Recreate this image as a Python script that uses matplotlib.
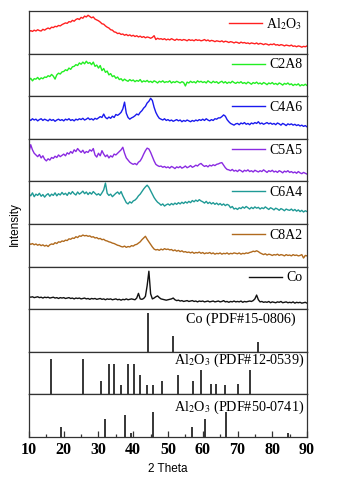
import numpy as np
import matplotlib
matplotlib.use("Agg")
import matplotlib.pyplot as plt
from matplotlib.ticker import MultipleLocator

plt.rcParams["font.family"] = ["Liberation Serif", "DejaVu Serif"]
plt.rcParams["mathtext.fontset"] = "stix"

# 2 theta grid of the measured patterns (0.5 deg steps, 10..90)
two_theta = np.arange(10, 90.01, 0.5)

# intensities, as fraction of each panel height
al2o3 = [
    0.51, 0.54, 0.52, 0.55, 0.53, 0.56, 0.54, 0.53, 0.57, 0.55,
    0.58, 0.60, 0.58, 0.62, 0.61, 0.64, 0.63, 0.66, 0.65, 0.68,
    0.70, 0.72, 0.71, 0.75, 0.74, 0.78, 0.76, 0.80, 0.82, 0.80,
    0.85, 0.83, 0.88, 0.86, 0.90, 0.87, 0.84, 0.86, 0.81, 0.79,
    0.77, 0.74, 0.70, 0.69, 0.65, 0.62, 0.60, 0.56, 0.55, 0.51,
    0.50, 0.47, 0.48, 0.45, 0.46, 0.43, 0.45, 0.42, 0.44, 0.41,
    0.43, 0.40, 0.42, 0.39, 0.41, 0.38, 0.40, 0.37, 0.39, 0.38,
    0.36, 0.38, 0.42, 0.33, 0.36, 0.34, 0.35, 0.33, 0.35, 0.32,
    0.34, 0.32, 0.35, 0.33, 0.31, 0.34, 0.32, 0.33, 0.31, 0.33,
    0.32, 0.30, 0.33, 0.31, 0.32, 0.30, 0.33, 0.31, 0.32, 0.30,
    0.31, 0.33, 0.30, 0.32, 0.29, 0.31, 0.30, 0.28, 0.30, 0.29,
    0.28, 0.30, 0.27, 0.29, 0.28, 0.26, 0.28, 0.27, 0.25, 0.27,
    0.26, 0.24, 0.27, 0.25, 0.26, 0.24, 0.25, 0.23, 0.25, 0.24,
    0.23, 0.25, 0.22, 0.24, 0.23, 0.21, 0.23, 0.22, 0.20, 0.22,
    0.21, 0.23, 0.20, 0.21, 0.19, 0.21, 0.20, 0.18, 0.20, 0.19,
    0.18, 0.20, 0.17, 0.18, 0.16, 0.18, 0.17, 0.15, 0.17, 0.16,
    0.18,
]
c2a8 = [
    0.38, 0.42, 0.36, 0.41, 0.40, 0.44, 0.39, 0.43, 0.41, 0.45,
    0.44, 0.48, 0.46, 0.51, 0.47, 0.40, 0.50, 0.54, 0.52, 0.57,
    0.58, 0.62, 0.60, 0.66, 0.63, 0.69, 0.70, 0.74, 0.72, 0.78,
    0.75, 0.80, 0.76, 0.82, 0.77, 0.79, 0.74, 0.80, 0.70, 0.73,
    0.66, 0.72, 0.60, 0.65, 0.56, 0.59, 0.50, 0.53, 0.46, 0.48,
    0.42, 0.45, 0.39, 0.41, 0.36, 0.40, 0.37, 0.35, 0.39, 0.36,
    0.38, 0.34, 0.37, 0.35, 0.39, 0.33, 0.36, 0.34, 0.37, 0.33,
    0.35, 0.32, 0.36, 0.34, 0.31, 0.35, 0.33, 0.36, 0.32, 0.34,
    0.33, 0.36, 0.31, 0.34, 0.32, 0.35, 0.33, 0.31, 0.34, 0.32,
    0.24, 0.33, 0.31, 0.35, 0.32, 0.34, 0.31, 0.36, 0.33, 0.35,
    0.32, 0.34, 0.31, 0.36, 0.33, 0.31, 0.35, 0.32, 0.34, 0.30,
    0.33, 0.35, 0.31, 0.34, 0.30, 0.33, 0.31, 0.35, 0.32, 0.30,
    0.33, 0.31, 0.34, 0.30, 0.32, 0.29, 0.33, 0.31, 0.28, 0.32,
    0.30, 0.33, 0.29, 0.31, 0.28, 0.32, 0.30, 0.27, 0.31, 0.29,
    0.32, 0.28, 0.30, 0.27, 0.31, 0.29, 0.26, 0.30, 0.28, 0.31,
    0.27, 0.29, 0.25, 0.28, 0.26, 0.29, 0.24, 0.27, 0.25, 0.28,
    0.25,
]
c4a6 = [
    0.46, 0.43, 0.47, 0.44, 0.46, 0.42, 0.45, 0.47, 0.43, 0.46,
    0.44, 0.42, 0.46, 0.43, 0.45, 0.41, 0.44, 0.46, 0.43, 0.45,
    0.42, 0.46, 0.44, 0.47, 0.43, 0.45, 0.42, 0.46, 0.44, 0.47,
    0.45, 0.48, 0.44, 0.46, 0.49, 0.45, 0.47, 0.44, 0.48, 0.46,
    0.49, 0.52, 0.50, 0.58, 0.50, 0.47, 0.51, 0.48, 0.53, 0.50,
    0.57, 0.55, 0.58, 0.62, 0.70, 0.86, 0.60, 0.50, 0.46, 0.49,
    0.51, 0.54, 0.58, 0.56, 0.62, 0.66, 0.72, 0.76, 0.84, 0.88,
    0.95, 0.90, 0.74, 0.62, 0.54, 0.48, 0.46, 0.44, 0.47, 0.43,
    0.45, 0.42, 0.44, 0.41, 0.43, 0.45, 0.42, 0.44, 0.40, 0.43,
    0.41, 0.44, 0.42, 0.40, 0.43, 0.41, 0.44, 0.42, 0.45, 0.43,
    0.46, 0.43, 0.47, 0.44, 0.42, 0.45, 0.43, 0.47, 0.46, 0.49,
    0.49, 0.52, 0.56, 0.53, 0.45, 0.40, 0.36, 0.34, 0.32, 0.35,
    0.36, 0.33, 0.37, 0.35, 0.38, 0.34, 0.36, 0.33, 0.37, 0.35,
    0.38, 0.36, 0.40, 0.35, 0.37, 0.34, 0.36, 0.38, 0.35, 0.37,
    0.34, 0.36, 0.33, 0.37, 0.35, 0.32, 0.36, 0.34, 0.31, 0.35,
    0.33, 0.35, 0.32, 0.34, 0.31, 0.33, 0.30, 0.32, 0.29, 0.31,
    0.28,
]
c5a5 = [
    0.70, 0.86, 0.74, 0.66, 0.62, 0.58, 0.63, 0.55, 0.60, 0.52,
    0.48, 0.53, 0.50, 0.56, 0.54, 0.59, 0.56, 0.62, 0.58, 0.61,
    0.64, 0.60, 0.67, 0.64, 0.70, 0.66, 0.74, 0.70, 0.77, 0.72,
    0.68, 0.73, 0.66, 0.70, 0.68, 0.74, 0.71, 0.77, 0.62, 0.57,
    0.66, 0.60, 0.72, 0.64, 0.58, 0.62, 0.55, 0.60, 0.57, 0.64,
    0.62, 0.66, 0.70, 0.74, 0.80, 0.66, 0.55, 0.50, 0.45, 0.42,
    0.40, 0.42, 0.39, 0.45, 0.48, 0.55, 0.64, 0.72, 0.78, 0.76,
    0.68, 0.58, 0.48, 0.40, 0.37, 0.35, 0.36, 0.33, 0.35, 0.32,
    0.34, 0.31, 0.35, 0.33, 0.30, 0.34, 0.32, 0.35, 0.31, 0.33,
    0.36, 0.32, 0.34, 0.37, 0.33, 0.35, 0.38, 0.36, 0.40, 0.42,
    0.38, 0.35, 0.37, 0.34, 0.38, 0.36, 0.39, 0.37, 0.40, 0.41,
    0.43, 0.44, 0.38, 0.32, 0.28, 0.27, 0.25, 0.28, 0.24, 0.26,
    0.23, 0.27, 0.25, 0.22, 0.26, 0.24, 0.27, 0.23, 0.25, 0.22,
    0.26, 0.24, 0.22, 0.25, 0.23, 0.27, 0.24, 0.21, 0.25, 0.23,
    0.26, 0.22, 0.24, 0.21, 0.25, 0.23, 0.20, 0.24, 0.22, 0.25,
    0.21, 0.23, 0.20, 0.22, 0.19, 0.23, 0.20, 0.18, 0.21, 0.19,
    0.17,
]
c6a4 = [
    0.70, 0.66, 0.73, 0.64, 0.70, 0.67, 0.72, 0.65, 0.69, 0.63,
    0.68, 0.71, 0.65, 0.70, 0.67, 0.73, 0.66, 0.71, 0.68, 0.74,
    0.69, 0.72, 0.67, 0.74, 0.70, 0.76, 0.71, 0.68, 0.75, 0.70,
    0.73, 0.77, 0.71, 0.75, 0.69, 0.74, 0.70, 0.76, 0.72, 0.68,
    0.71, 0.67, 0.73, 0.80, 0.96, 0.72, 0.67, 0.70, 0.64, 0.68,
    0.72, 0.75, 0.70, 0.76, 0.66, 0.58, 0.50, 0.47, 0.52, 0.49,
    0.54, 0.56, 0.60, 0.66, 0.70, 0.76, 0.82, 0.87, 0.91, 0.86,
    0.78, 0.70, 0.62, 0.56, 0.51, 0.48, 0.44, 0.47, 0.42, 0.45,
    0.47, 0.44, 0.48, 0.45, 0.49, 0.46, 0.50, 0.47, 0.51, 0.48,
    0.52, 0.49, 0.53, 0.50, 0.55, 0.52, 0.56, 0.53, 0.57, 0.54,
    0.52, 0.49, 0.53, 0.48, 0.51, 0.47, 0.50, 0.46, 0.49, 0.45,
    0.48, 0.44, 0.47, 0.43, 0.46, 0.44, 0.38, 0.41, 0.35, 0.37,
    0.34, 0.38, 0.36, 0.40, 0.37, 0.41, 0.38, 0.35, 0.39, 0.36,
    0.40, 0.37, 0.39, 0.35, 0.38, 0.36, 0.40, 0.37, 0.34, 0.38,
    0.36, 0.33, 0.37, 0.35, 0.32, 0.36, 0.34, 0.31, 0.35, 0.33,
    0.32, 0.35, 0.31, 0.34, 0.30, 0.33, 0.29, 0.32, 0.28, 0.31,
    0.29,
]
c8a2 = [
    0.55, 0.52, 0.54, 0.51, 0.53, 0.50, 0.52, 0.49, 0.51, 0.48,
    0.50, 0.47, 0.51, 0.53, 0.52, 0.56, 0.54, 0.58, 0.57, 0.60,
    0.59, 0.62, 0.61, 0.65, 0.64, 0.67, 0.66, 0.70, 0.68, 0.72,
    0.71, 0.74, 0.72, 0.73, 0.71, 0.72, 0.69, 0.70, 0.67, 0.68,
    0.65, 0.66, 0.63, 0.64, 0.61, 0.60, 0.58, 0.57, 0.55, 0.54,
    0.52, 0.50, 0.49, 0.47, 0.46, 0.48, 0.45, 0.47, 0.46, 0.49,
    0.48, 0.51, 0.52, 0.55, 0.58, 0.63, 0.67, 0.71, 0.64, 0.58,
    0.52, 0.46, 0.41, 0.39, 0.40, 0.38, 0.41, 0.39, 0.42, 0.40,
    0.41, 0.39, 0.40, 0.37, 0.39, 0.36, 0.38, 0.35, 0.37, 0.34,
    0.35, 0.33, 0.34, 0.32, 0.34, 0.31, 0.33, 0.32, 0.34, 0.31,
    0.33, 0.30, 0.32, 0.31, 0.33, 0.30, 0.32, 0.29, 0.31, 0.30,
    0.32, 0.29, 0.31, 0.30, 0.32, 0.29, 0.31, 0.30, 0.32, 0.31,
    0.30, 0.32, 0.29, 0.31, 0.30, 0.32, 0.31, 0.33, 0.34, 0.36,
    0.35, 0.37, 0.35, 0.32, 0.30, 0.28, 0.30, 0.27, 0.29, 0.28,
    0.26, 0.28, 0.27, 0.29, 0.26, 0.28, 0.27, 0.25, 0.28, 0.26,
    0.27, 0.25, 0.28, 0.26, 0.27, 0.25, 0.26, 0.28, 0.20, 0.26,
    0.25,
]
co = [
    0.29, 0.28, 0.29, 0.27, 0.28, 0.29, 0.27, 0.28, 0.26, 0.28,
    0.27, 0.28, 0.26, 0.27, 0.28, 0.26, 0.27, 0.25, 0.27, 0.26,
    0.27, 0.25, 0.26, 0.27, 0.25, 0.26, 0.24, 0.26, 0.25, 0.26,
    0.24, 0.25, 0.26, 0.24, 0.25, 0.23, 0.25, 0.24, 0.25, 0.23,
    0.24, 0.25, 0.23, 0.24, 0.22, 0.24, 0.23, 0.24, 0.22, 0.23,
    0.24, 0.22, 0.23, 0.21, 0.23, 0.22, 0.24, 0.22, 0.23, 0.24,
    0.23, 0.22, 0.26, 0.37, 0.24, 0.23, 0.25, 0.30, 0.55, 0.89,
    0.36, 0.24, 0.26, 0.29, 0.31, 0.27, 0.24, 0.23, 0.22, 0.21,
    0.22, 0.23, 0.24, 0.26, 0.22, 0.20, 0.21, 0.19, 0.20, 0.18,
    0.19, 0.20, 0.18, 0.19, 0.20, 0.18, 0.19, 0.17, 0.19, 0.18,
    0.19, 0.17, 0.18, 0.19, 0.17, 0.18, 0.19, 0.17, 0.18, 0.19,
    0.17, 0.18, 0.20, 0.17, 0.18, 0.16, 0.18, 0.17, 0.19, 0.17,
    0.18, 0.17, 0.19, 0.16, 0.18, 0.17, 0.18, 0.19, 0.18, 0.20,
    0.24, 0.33, 0.22, 0.17, 0.18, 0.16, 0.17, 0.16, 0.18, 0.15,
    0.17, 0.16, 0.15, 0.17, 0.16, 0.18, 0.15, 0.16, 0.17, 0.15,
    0.16, 0.15, 0.17, 0.14, 0.16, 0.15, 0.16, 0.14, 0.15, 0.16,
    0.14,
]

sample_labels = [r"Al$_2$O$_3$", "C2A8", "C4A6", "C5A5", "C6A4", "C8A2", "Co"]
sample_colors = ["#ff2020", "#22ee22", "#1a1aee", "#8a2be2", "#1f9a96", "#b06a1e", "#111111"]
sample_data = [al2o3, c2a8, c4a6, c5a5, c6a4, c8a2, co]

# standard cards: peak positions and relative intensities
co_1508_pos = [44.2, 51.5, 75.9]
co_1508_int = [100, 41, 26]
al_1205_pos = [16.2, 25.6, 30.6, 32.9, 34.6, 36.6, 38.4, 40.3, 42.0, 43.9,
               45.6, 48.4, 52.9, 57.3, 59.6, 62.3, 63.7, 66.4, 70.0, 73.6]
al_1205_int = [100, 100, 37, 85, 85, 26, 85, 85, 54, 26,
               26, 37, 54, 37, 69, 30, 30, 26, 30, 69]
al_5007_pos = [19.3, 31.9, 37.5, 39.3, 45.8, 56.8, 60.6, 66.8, 84.6]
al_5007_int = [40, 70, 88, 15, 100, 40, 70, 100, 15]

card_labels = ["Co (PDF#15-0806)", r"Al$_2$O$_3$ (PDF#12-0539)", r"Al$_2$O$_3$ (PDF#50-0741)"]
card_pos = [co_1508_pos, al_1205_pos, al_5007_pos]
card_int = [co_1508_int, al_1205_int, al_5007_int]
card_top = [109, 119, 170]   # headroom so the tallest line reaches its height in the panel
card_text_x = [0.96, 0.99, 0.99]
card_text_y = [0.77, 0.80, 0.70]

fig, axes = plt.subplots(10, 1, figsize=(3.37, 4.78), dpi=100, sharex=True)
fig.subplots_adjust(left=0.086, right=0.911, top=0.977, bottom=0.086, hspace=0)

for ax in axes:
    ax.set_xlim(10, 90)
    ax.set_yticks([])
    for s in ax.spines.values():
        s.set_color("#333333")
        s.set_linewidth(0.9)
    ax.tick_params(axis="x", which="both", bottom=False, labelbottom=False)

for ax, y, lab, col in zip(axes[:7], sample_data, sample_labels, sample_colors):
    ax.plot(two_theta, y, color=col, lw=1.0, label=lab)
    ax.set_ylim(0, 1)
    ax.legend(loc="upper right", frameon=False, fontsize=10, handlelength=2.4,
              handletextpad=0.3, borderaxespad=0.1, borderpad=0.25)

for ax, pos, inten, top, lab, tx, ty in zip(axes[7:], card_pos, card_int, card_top,
                                            card_labels, card_text_x, card_text_y):
    ax.vlines(pos, 0, inten, color="black", lw=1.1)
    ax.set_ylim(0, top)
    ax.text(tx, ty, lab, transform=ax.transAxes, ha="right", va="center",
            fontsize=10.2)

bot = axes[-1]
bot.xaxis.set_major_locator(MultipleLocator(10))
bot.xaxis.set_minor_locator(MultipleLocator(5))
bot.tick_params(axis="x", which="both", bottom=True, labelbottom=True,
                direction="in", width=0.9, color="#333333")
bot.tick_params(axis="x", which="major", length=4, pad=4)
bot.tick_params(axis="x", which="minor", length=2.5)
for t in bot.get_xticklabels():
    t.set_fontweight("bold")
    t.set_fontsize(11.5)
bot.set_xlabel("2 Theta", family="Liberation Sans", fontsize=8.5, labelpad=3)

fig.text(0.045, 0.531, "Intensity", rotation=90, ha="center", va="center",
         family="Liberation Sans", fontsize=8.5)

fig.savefig("out.png", dpi=100, facecolor="white")
